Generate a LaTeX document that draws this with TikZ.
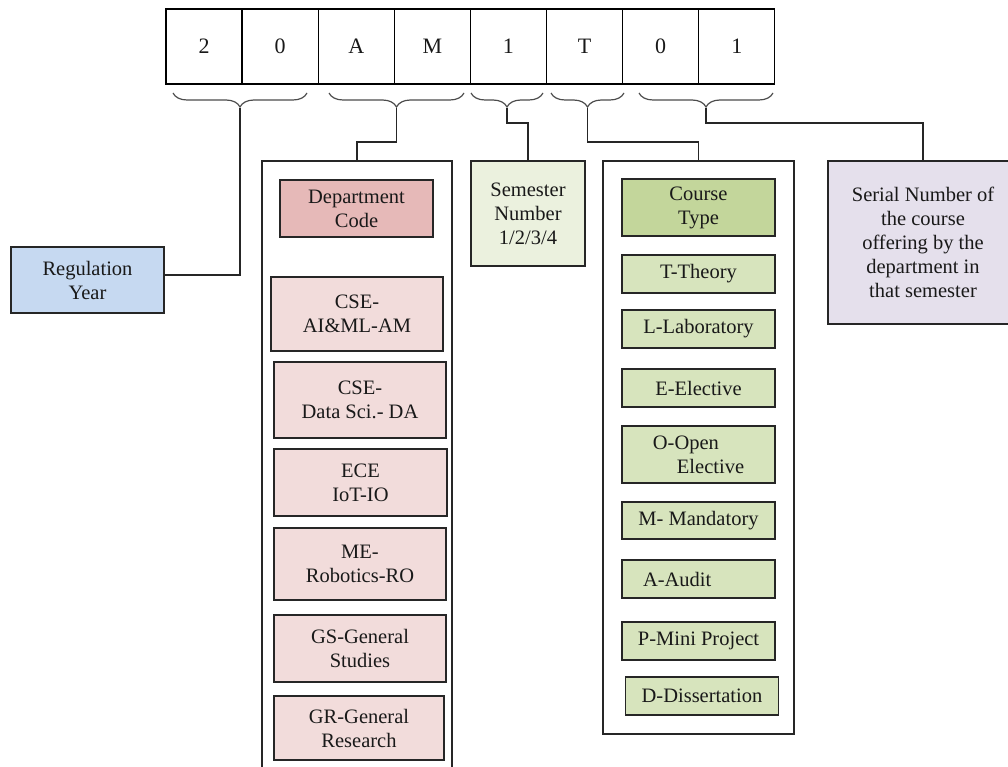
\documentclass[tikz,border=0pt]{standalone}
\usepackage{fontspec}
\setmainfont{Liberation Serif}
\usetikzlibrary{calc,decorations.pathreplacing}
\definecolor{regblue}{HTML}{C6D9F1}
\definecolor{deptred}{HTML}{E6B9B8}
\definecolor{deptpink}{HTML}{F2DCDB}
\definecolor{semgreen}{HTML}{EBF1DE}
\definecolor{typegreen}{HTML}{C3D69B}
\definecolor{itemgreen}{HTML}{D7E4BD}
\definecolor{serlilac}{HTML}{E5E0EC}
\tikzstyle{cell}=[draw,line width=1.3pt,minimum width=76pt,minimum height=75pt,inner sep=0pt,font=\fontsize{22}{26}\selectfont,text=black!90]
\tikzstyle{box}=[draw=black!85,line width=1.3pt,inner sep=2pt,align=center,font=\fontsize{20.5}{24}\selectfont,text=black!90]
\tikzstyle{frame}=[draw=black!85,line width=1.3pt,inner sep=0pt]
\tikzstyle{link}=[draw=black!85,line width=1.3pt]
\tikzstyle{brace}=[draw=black!70,line width=1.2pt,decorate,decoration={brace,mirror,amplitude=14pt}]

\begin{document}
\begin{tikzpicture}[x=1pt,y=-1pt]
    \useasboundingbox (0,0) rectangle (1008,767);
    \clip (0,0) rectangle (1008,767);

    % code digits
    \foreach \i/\ch in {1/2,2/0,3/A,4/M,5/1,6/T,7/0,8/1}
        \node[cell] (c\i) at ({166+76.1*(\i-0.5)},46.5) {\ch};

    % braces under the groups of digits
    \foreach \n/\l/\r in {1/173/307, 2/329/464, 3/471/543, 4/551/624, 5/639/773} {
        \draw[brace] (\l,93) -- (\r,93);
        \coordinate (t\n) at ({(\l+\r)/2},108);
    }

    % outer frames
    \node[frame,minimum width=190pt,minimum height=619pt] (deptframe) at (357,470.5) {};
    \node[frame,minimum width=191pt,minimum height=573pt] (typeframe) at (698.5,447.5) {};

    \node[box,fill=regblue,minimum width=153pt,minimum height=66pt] (reg) at (87.5,280) {Regulation\\Year};
    \node[box,fill=semgreen,minimum width=114pt,minimum height=105pt] (sem) at (528,213.5) {Semester\\Number\\1/2/3/4};
    \node[box,fill=serlilac,minimum width=190pt,minimum height=163pt] (ser) at (923,242.5)
        {Serial Number of\\the course\\offering by the\\department in\\ that semester};

    % department codes
    \node[box,fill=deptred,minimum width=153pt,minimum height=57pt] (dcode) at (356.5,208.5) {Department\\Code};
    \foreach \pos/\w/\h/\name/\txt in {{(357,314)/172/74/aiml/{CSE-\\AI\&ML-AM}},
            {(360,400)/172/76/ds/{CSE-\\Data Sci.- DA}}, {(360.5,482.5)/173/67/iot/{ECE\\IoT-IO}},
            {(360,564)/172/72/ro/{ME-\\Robotics-RO}}, {(360,648.5)/172/67/gs/{GS-General\\Studies}},
            {(359,728)/170/64/gr/{GR-General\\Research}}}
        \node[box,fill=deptpink,minimum width=\w pt,minimum height=\h pt] (\name) at \pos {\txt};

    % course types
    \node[box,fill=typegreen,minimum width=153pt,minimum height=57pt] (ctype) at (698.5,207.5) {Course\\Type};
    \foreach \pos/\h/\name/\txt in {{(698.5,274)/38/th/{T-Theory}}, {(698.5,329)/38/lab/{L-Laboratory}},
            {(698.5,388)/38/el/{E-Elective}}, {(698.5,454.5)/57/oe/{O-Open\\\hspace*{24pt}Elective}},
            {(698.5,520.5)/37/man/{M- Mandatory}}, {(698.5,579)/38/au/{\makebox[111pt][l]{A-Audit}}},
            {(698.5,641)/38/mp/{P-Mini Project}}, {(702,696)/38/dis/{D-Dissertation}}}
        \node[box,fill=itemgreen,align=left,minimum width=153pt,minimum height=\h pt] (\name) at \pos {\txt};

    % connect braces to their boxes
    \draw[link] (t1) |- ([yshift=5pt]reg.east);
    \draw[link] (t2) -- ++(0,34) -| (deptframe.north);
    \draw[link] (t3) -- ++(0,15) -| (sem.north);
    \draw[link] (t4) -- ++(0,34) -| (typeframe.north);
    \draw[link] (t5) -- ++(0,15) -| (ser.north);

\end{tikzpicture}
\end{document}
